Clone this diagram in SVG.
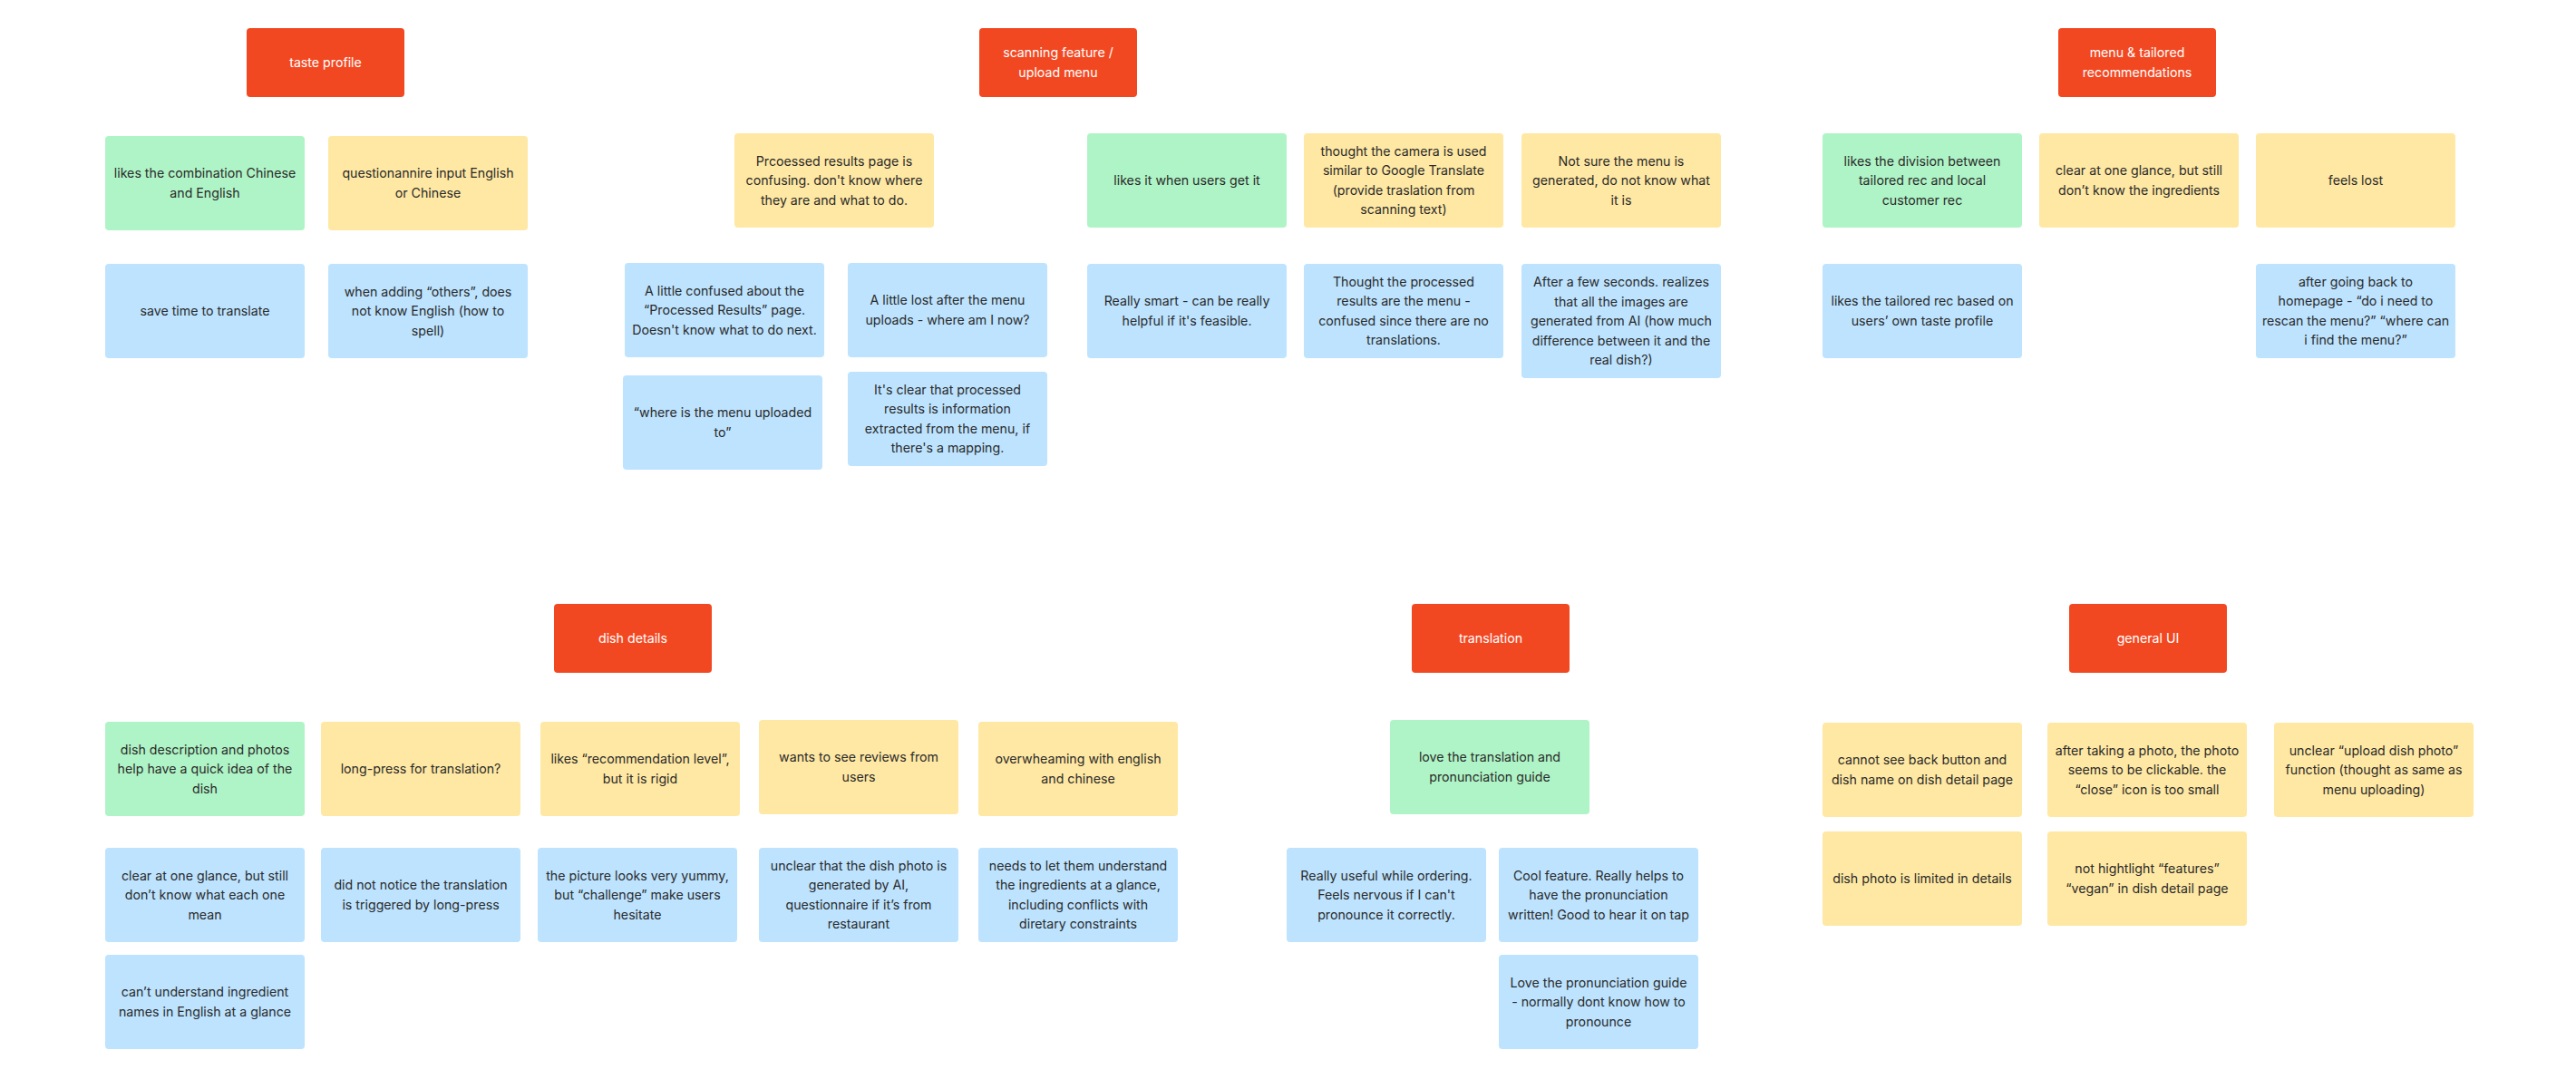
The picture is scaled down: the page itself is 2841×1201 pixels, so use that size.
<svg xmlns="http://www.w3.org/2000/svg" width="2841" height="1201" viewBox="0 0 2841 1201">
<style>
.bg{fill:#ffffff}
.hd{fill:#F24822}
.gr{fill:#AFF4C6}
.ye{fill:#FFE8A3}
.bl{fill:#BDE3FF}
text{font-family:Inter,"Noto Sans","Liberation Sans",sans-serif;font-size:14.2px;text-anchor:middle;fill:#2a2a2a}
.ht{fill:#ffffff}
</style>
<rect class="bg" x="0" y="0" width="2841" height="1201"/>
<g id="connectors"></g>

<!-- taste profile -->
<g id="h-taste"><rect class="hd" x="272" y="31" width="174" height="76" rx="4"/><text class="ht" x="359" y="74">taste profile</text></g>
<g id="t1"><rect class="gr" x="116" y="150" width="220" height="104" rx="4"/><text><tspan x="226" y="196.25">likes the combination Chinese</tspan><tspan x="226" y="217.75">and English</tspan></text></g>
<g id="t2"><rect class="ye" x="362" y="150" width="220" height="104" rx="4"/><text><tspan x="472" y="196.25">questionannire input English</tspan><tspan x="472" y="217.75">or Chinese</tspan></text></g>
<g id="t3"><rect class="bl" x="116" y="291" width="220" height="104" rx="4"/><text x="226" y="348">save time to translate</text></g>
<g id="t4"><rect class="bl" x="362" y="291" width="220" height="104" rx="4"/><text><tspan x="472" y="326.5">when adding “others”, does</tspan><tspan x="472" y="348">not know English (how to</tspan><tspan x="472" y="369.5">spell)</tspan></text></g>

<!-- scanning feature -->
<g id="h-scan"><rect class="hd" x="1080" y="31" width="174" height="76" rx="4"/><text class="ht"><tspan class="ht" x="1167" y="63.25">scanning feature /</tspan><tspan class="ht" x="1167" y="84.75">upload menu</tspan></text></g>
<g id="s1"><rect class="ye" x="810" y="147" width="220" height="104" rx="4"/><text><tspan x="920" y="182.5">Prcoessed results page is</tspan><tspan x="920" y="204">confusing. don't know where</tspan><tspan x="920" y="225.5">they are and what to do.</tspan></text></g>
<g id="s2"><rect class="gr" x="1199" y="147" width="220" height="104" rx="4"/><text x="1309" y="204">likes it when users get it</text></g>
<g id="s3"><rect class="ye" x="1438" y="147" width="220" height="104" rx="4"/><text><tspan x="1548" y="171.75">thought the camera is used</tspan><tspan x="1548" y="193.25">similar to Google Translate</tspan><tspan x="1548" y="214.75">(provide traslation from</tspan><tspan x="1548" y="236.25">scanning text)</tspan></text></g>
<g id="s4"><rect class="ye" x="1678" y="147" width="220" height="104" rx="4"/><text><tspan x="1788" y="182.5">Not sure the menu is</tspan><tspan x="1788" y="204">generated, do not know what</tspan><tspan x="1788" y="225.5">it is</tspan></text></g>
<g id="s5"><rect class="bl" x="689" y="290" width="220" height="104" rx="4"/><text><tspan x="799" y="325.5">A little confused about the</tspan><tspan x="799" y="347">“Processed Results” page.</tspan><tspan x="799" y="368.5">Doesn't know what to do next.</tspan></text></g>
<g id="s6"><rect class="bl" x="935" y="290" width="220" height="104" rx="4"/><text><tspan x="1045" y="336.25">A little lost after the menu</tspan><tspan x="1045" y="357.75">uploads - where am I now?</tspan></text></g>
<g id="s7"><rect class="bl" x="687" y="414" width="220" height="104" rx="4"/><text><tspan x="797" y="460.25">“where is the menu uploaded</tspan><tspan x="797" y="481.75">to”</tspan></text></g>
<g id="s8"><rect class="bl" x="935" y="410" width="220" height="104" rx="4"/><text><tspan x="1045" y="434.75">It's clear that processed</tspan><tspan x="1045" y="456.25">results is information</tspan><tspan x="1045" y="477.75">extracted from the menu, if</tspan><tspan x="1045" y="499.25">there's a mapping.</tspan></text></g>
<g id="s9"><rect class="bl" x="1199" y="291" width="220" height="104" rx="4"/><text><tspan x="1309" y="337.25">Really smart - can be really</tspan><tspan x="1309" y="358.75">helpful if it's feasible.</tspan></text></g>
<g id="s10"><rect class="bl" x="1438" y="291" width="220" height="104" rx="4"/><text><tspan x="1548" y="315.75">Thought the processed</tspan><tspan x="1548" y="337.25">results are the menu -</tspan><tspan x="1548" y="358.75">confused since there are no</tspan><tspan x="1548" y="380.25">translations.</tspan></text></g>
<g id="s11"><rect class="bl" x="1678" y="291" width="220" height="126" rx="4"/><text><tspan x="1788" y="316">After a few seconds. realizes</tspan><tspan x="1788" y="337.5">that all the images are</tspan><tspan x="1788" y="359">generated from AI (how much</tspan><tspan x="1788" y="380.5">difference between it and the</tspan><tspan x="1788" y="402">real dish?)</tspan></text></g>

<!-- menu & tailored recommendations -->
<g id="h-menu"><rect class="hd" x="2270" y="31" width="174" height="76" rx="4"/><text class="ht"><tspan class="ht" x="2357" y="63.25">menu &amp; tailored</tspan><tspan class="ht" x="2357" y="84.75">recommendations</tspan></text></g>
<g id="m1"><rect class="gr" x="2010" y="147" width="220" height="104" rx="4"/><text><tspan x="2120" y="182.5">likes the division between</tspan><tspan x="2120" y="204">tailored rec and local</tspan><tspan x="2120" y="225.5">customer rec</tspan></text></g>
<g id="m2"><rect class="ye" x="2249" y="147" width="220" height="104" rx="4"/><text><tspan x="2359" y="193.25">clear at one glance, but still</tspan><tspan x="2359" y="214.75">don’t know the ingredients</tspan></text></g>
<g id="m3"><rect class="ye" x="2488" y="147" width="220" height="104" rx="4"/><text x="2598" y="204">feels lost</text></g>
<g id="m4"><rect class="bl" x="2010" y="291" width="220" height="104" rx="4"/><text><tspan x="2120" y="337.25">likes the tailored rec based on</tspan><tspan x="2120" y="358.75">users’ own taste profile</tspan></text></g>
<g id="m5"><rect class="bl" x="2488" y="291" width="220" height="104" rx="4"/><text><tspan x="2598" y="315.75">after going back to</tspan><tspan x="2598" y="337.25">homepage - “do i need to</tspan><tspan x="2598" y="358.75">rescan the menu?” “where can</tspan><tspan x="2598" y="380.25">i find the menu?”</tspan></text></g>

<!-- dish details -->
<g id="h-dish"><rect class="hd" x="611" y="666" width="174" height="76" rx="4"/><text class="ht" x="698" y="709">dish details</text></g>
<g id="d1"><rect class="gr" x="116" y="796" width="220" height="104" rx="4"/><text><tspan x="226" y="831.5">dish description and photos</tspan><tspan x="226" y="853">help have a quick idea of the</tspan><tspan x="226" y="874.5">dish</tspan></text></g>
<g id="d2"><rect class="ye" x="354" y="796" width="220" height="104" rx="4"/><text x="464" y="853">long-press for translation?</text></g>
<g id="d3"><rect class="ye" x="596" y="796" width="220" height="104" rx="4"/><text><tspan x="706" y="842.25">likes “recommendation level”,</tspan><tspan x="706" y="863.75">but it is rigid</tspan></text></g>
<g id="d4"><rect class="ye" x="837" y="794" width="220" height="104" rx="4"/><text><tspan x="947" y="840.25">wants to see reviews from</tspan><tspan x="947" y="861.75">users</tspan></text></g>
<g id="d5"><rect class="ye" x="1079" y="796" width="220" height="104" rx="4"/><text><tspan x="1189" y="842.25">overwheaming with english</tspan><tspan x="1189" y="863.75">and chinese</tspan></text></g>
<g id="d6"><rect class="bl" x="116" y="935" width="220" height="104" rx="4"/><text><tspan x="226" y="970.5">clear at one glance, but still</tspan><tspan x="226" y="992">don’t know what each one</tspan><tspan x="226" y="1013.5">mean</tspan></text></g>
<g id="d7"><rect class="bl" x="354" y="935" width="220" height="104" rx="4"/><text><tspan x="464" y="981.25">did not notice the translation</tspan><tspan x="464" y="1002.75">is triggered by long-press</tspan></text></g>
<g id="d8"><rect class="bl" x="593" y="935" width="220" height="104" rx="4"/><text><tspan x="703" y="970.5">the picture looks very yummy,</tspan><tspan x="703" y="992">but “challenge” make users</tspan><tspan x="703" y="1013.5">hesitate</tspan></text></g>
<g id="d9"><rect class="bl" x="837" y="935" width="220" height="104" rx="4"/><text><tspan x="947" y="959.75">unclear that the dish photo is</tspan><tspan x="947" y="981.25">generated by AI,</tspan><tspan x="947" y="1002.75">questionnaire if it’s from</tspan><tspan x="947" y="1024.25">restaurant</tspan></text></g>
<g id="d10"><rect class="bl" x="1079" y="935" width="220" height="104" rx="4"/><text><tspan x="1189" y="959.75">needs to let them understand</tspan><tspan x="1189" y="981.25">the ingredients at a glance,</tspan><tspan x="1189" y="1002.75">including conflicts with</tspan><tspan x="1189" y="1024.25">diretary constraints</tspan></text></g>
<g id="d11"><rect class="bl" x="116" y="1053" width="220" height="104" rx="4"/><text><tspan x="226" y="1099.25">can’t understand ingredient</tspan><tspan x="226" y="1120.75">names in English at a glance</tspan></text></g>

<!-- translation -->
<g id="h-trans"><rect class="hd" x="1557" y="666" width="174" height="76" rx="4"/><text class="ht" x="1644" y="709">translation</text></g>
<g id="r1"><rect class="gr" x="1533" y="794" width="220" height="104" rx="4"/><text><tspan x="1643" y="840.25">love the translation and</tspan><tspan x="1643" y="861.75">pronunciation guide</tspan></text></g>
<g id="r2"><rect class="bl" x="1419" y="935" width="220" height="104" rx="4"/><text><tspan x="1529" y="970.5">Really useful while ordering.</tspan><tspan x="1529" y="992">Feels nervous if I can't</tspan><tspan x="1529" y="1013.5">pronounce it correctly.</tspan></text></g>
<g id="r3"><rect class="bl" x="1653" y="935" width="220" height="104" rx="4"/><text><tspan x="1763" y="970.5">Cool feature. Really helps to</tspan><tspan x="1763" y="992">have the pronunciation</tspan><tspan x="1763" y="1013.5">written! Good to hear it on tap</tspan></text></g>
<g id="r4"><rect class="bl" x="1653" y="1053" width="220" height="104" rx="4"/><text><tspan x="1763" y="1088.5">Love the pronunciation guide</tspan><tspan x="1763" y="1110">- normally dont know how to</tspan><tspan x="1763" y="1131.5">pronounce</tspan></text></g>

<!-- general UI -->
<g id="h-ui"><rect class="hd" x="2282" y="666" width="174" height="76" rx="4"/><text class="ht" x="2369" y="709">general UI</text></g>
<g id="g1"><rect class="ye" x="2010" y="797" width="220" height="104" rx="4"/><text><tspan x="2120" y="843.25">cannot see back button and</tspan><tspan x="2120" y="864.75">dish name on dish detail page</tspan></text></g>
<g id="g2"><rect class="ye" x="2258" y="797" width="220" height="104" rx="4"/><text><tspan x="2368" y="832.5">after taking a photo, the photo</tspan><tspan x="2368" y="854">seems to be clickable. the</tspan><tspan x="2368" y="875.5">“close” icon is too small</tspan></text></g>
<g id="g3"><rect class="ye" x="2508" y="797" width="220" height="104" rx="4"/><text><tspan x="2618" y="832.5">unclear “upload dish photo”</tspan><tspan x="2618" y="854">function (thought as same as</tspan><tspan x="2618" y="875.5">menu uploading)</tspan></text></g>
<g id="g4"><rect class="ye" x="2010" y="917" width="220" height="104" rx="4"/><text x="2120" y="974">dish photo is limited in details</text></g>
<g id="g5"><rect class="ye" x="2258" y="917" width="220" height="104" rx="4"/><text><tspan x="2368" y="963.25">not hightlight “features”</tspan><tspan x="2368" y="984.75">“vegan” in dish detail page</tspan></text></g>
</svg>
